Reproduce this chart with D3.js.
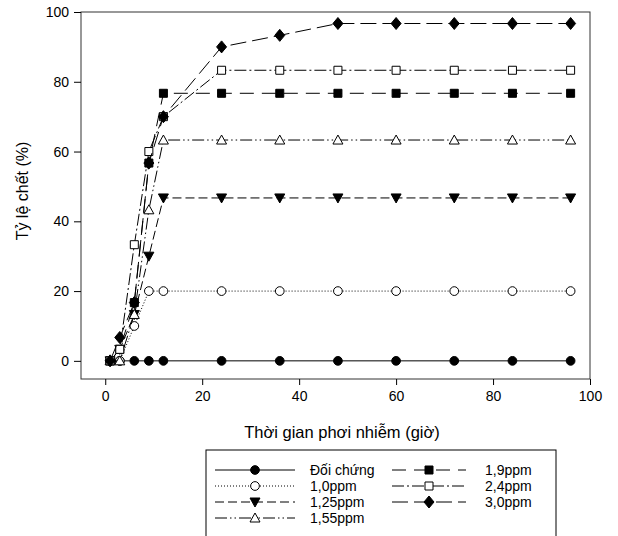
<!DOCTYPE html>
<html>
<head>
<meta charset="utf-8">
<script src="https://cdn.jsdelivr.net/npm/d3@7"></script>
<style>
  body { margin: 0; background: #fff; }
  text { font-family: "Liberation Sans", Arial, sans-serif; }
</style>
</head>
<body>
<svg id="chart" width="618" height="536"></svg>
<script>
// time points (hours)
const hours = [1, 3, 6, 9, 12, 24, 36, 48, 60, 72, 84, 96];

// mortality (%) per concentration
const control = [0, 0, 0, 0, 0, 0, 0, 0, 0, 0, 0, 0];
const ppm10 = [0, 0, 10, 20, 20, 20, 20, 20, 20, 20, 20, 20];
const ppm125 = [0, 3.3, 13.3, 30, 46.7, 46.7, 46.7, 46.7, 46.7, 46.7, 46.7, 46.7];
const ppm155 = [0, 0, 13.3, 43.3, 63.3, 63.3, 63.3, 63.3, 63.3, 63.3, 63.3, 63.3];
const ppm19 = [0, 3.3, 16.7, 56.7, 76.7, 76.7, 76.7, 76.7, 76.7, 76.7, 76.7, 76.7];
const ppm24 = [0, 3.3, 33.3, 60, 70, 83.3, 83.3, 83.3, 83.3, 83.3, 83.3, 83.3];
const ppm30 = [0, 6.7, 16.7, 56.7, 70, 90, 93.3, 96.7, 96.7, 96.7, 96.7, 96.7];

const xTicks = [0, 20, 40, 60, 80, 100];
const yTicks = [0, 20, 40, 60, 80, 100];

const series = [
  { name: "Đối chứng", values: control, symbol: "circle", fill: "#000", dash: null },
  { name: "1,0ppm", values: ppm10, symbol: "circle", fill: "#fff", dash: "1,2" },
  { name: "1,25ppm", values: ppm125, symbol: "down", fill: "#000", dash: "9,4" },
  { name: "1,55ppm", values: ppm155, symbol: "up", fill: "#fff", dash: "12,3,1.5,3,1.5,3" },
  { name: "1,9ppm", values: ppm19, symbol: "square", fill: "#000", dash: "14,8" },
  { name: "2,4ppm", values: ppm24, symbol: "square", fill: "#fff", dash: "12,3,2,3" },
  { name: "3,0ppm", values: ppm30, symbol: "diamond", fill: "#000", dash: "16,6" }
];

const svg = d3.select("#chart");
const plot = { left: 81, right: 590, top: 12, bottom: 379 };

const x = d3.scaleLinear().domain([-5, 100]).range([plot.left, plot.right]);
const y = d3.scaleLinear().domain([-5.2, 100]).range([plot.bottom, plot.top]);

// frame
svg.append("rect")
  .attr("x", plot.left).attr("y", plot.top)
  .attr("width", plot.right - plot.left).attr("height", plot.bottom - plot.top)
  .attr("fill", "none").attr("stroke", "#333").attr("stroke-width", 1);

svg.append("g")
  .attr("transform", "translate(0," + plot.bottom + ")")
  .call(d3.axisBottom(x).tickValues(xTicks).tickSize(6).tickPadding(6))
  .call(g => g.select(".domain").remove())
  .call(g => g.selectAll("text").attr("font-size", 14).attr("fill", "#000"));

svg.append("g")
  .attr("transform", "translate(" + plot.left + ",0)")
  .call(d3.axisLeft(y).tickValues(yTicks).tickSize(7).tickPadding(5))
  .call(g => g.select(".domain").remove())
  .call(g => g.selectAll("text").attr("font-size", 14).attr("fill", "#000"));

svg.append("text")
  .attr("x", 342).attr("y", 438)
  .attr("text-anchor", "middle").attr("font-size", 16.5)
  .text("Thời gian phơi nhiễm (giờ)");

svg.append("text")
  .attr("transform", "translate(28,191) rotate(-90)")
  .attr("text-anchor", "middle").attr("font-size", 16)
  .text("Tỷ lệ chết (%)");

function symbolPath(kind) {
  if (kind === "circle") return d3.symbol(d3.symbolCircle, 60)();
  if (kind === "square") return d3.symbol(d3.symbolSquare, 64)();
  if (kind === "diamond") return "M0,-6L5,0L0,6L-5,0Z";
  if (kind === "up") return "M0,-5L5,4L-5,4Z";
  if (kind === "down") return "M0,5L5,-4L-5,-4Z";
}

const line = d3.line().x(d => x(d[0])).y(d => y(d[1]));

series.forEach(s => {
  const pts = hours.map((h, i) => [h, s.values[i]]);
  svg.append("path")
    .datum(pts)
    .attr("d", line)
    .attr("fill", "none")
    .attr("stroke", "#000")
    .attr("stroke-width", 1)
    .attr("stroke-dasharray", s.dash);
  svg.append("g").selectAll("path")
    .data(pts)
    .join("path")
    .attr("transform", d => "translate(" + x(d[0]) + "," + y(d[1]) + ")")
    .attr("d", symbolPath(s.symbol))
    .attr("fill", s.fill)
    .attr("stroke", "#000")
    .attr("stroke-width", 1);
});

// legend
const lg = svg.append("g");
lg.append("rect")
  .attr("x", 206).attr("y", 450).attr("width", 350).attr("height", 100)
  .attr("fill", "#fff").attr("stroke", "#000").attr("stroke-width", 1);

const legendPos = [
  { x1: 215, x2: 295, tx: 310, y: 470 },
  { x1: 215, x2: 295, tx: 310, y: 486 },
  { x1: 215, x2: 295, tx: 310, y: 502 },
  { x1: 215, x2: 295, tx: 310, y: 518 },
  { x1: 392, x2: 466, tx: 485, y: 470 },
  { x1: 392, x2: 466, tx: 485, y: 486 },
  { x1: 392, x2: 466, tx: 485, y: 502 }
];

series.forEach((s, i) => {
  const p = legendPos[i];
  lg.append("line")
    .attr("x1", p.x1).attr("x2", p.x2).attr("y1", p.y).attr("y2", p.y)
    .attr("stroke", "#000").attr("stroke-width", 1)
    .attr("stroke-dasharray", s.dash);
  lg.append("path")
    .attr("transform", "translate(" + ((p.x1 + p.x2) / 2) + "," + p.y + ")")
    .attr("d", symbolPath(s.symbol))
    .attr("fill", s.fill).attr("stroke", "#000");
  lg.append("text")
    .attr("x", p.tx).attr("y", p.y + 5)
    .attr("font-size", 14)
    .text(s.name);
});
</script>
</body>
</html>
